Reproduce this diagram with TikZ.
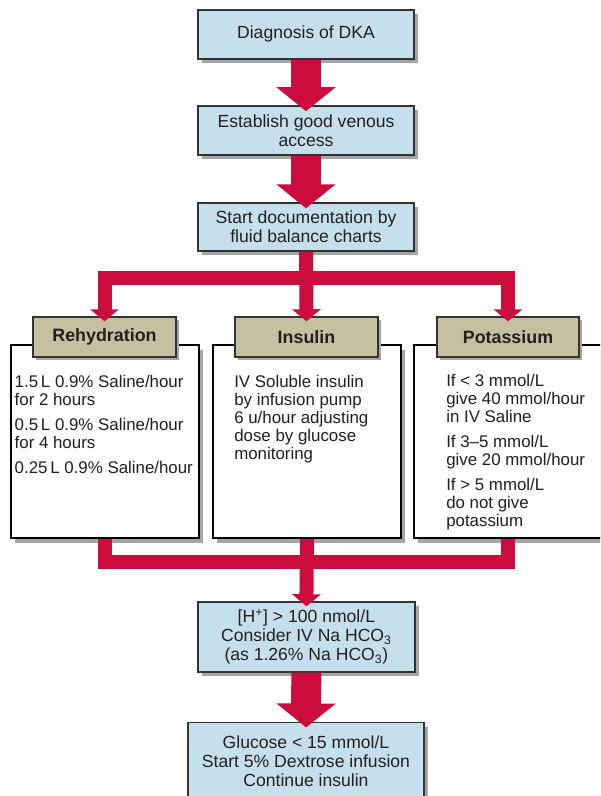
\documentclass[tikz,border=0pt]{standalone}
\usepackage{fontspec}
\setmainfont{Liberation Sans}
\usetikzlibrary{arrows.meta, shadows}
\definecolor{boxblue}{RGB}{197, 224, 236}
\definecolor{headtan}{RGB}{196, 192, 160}
\definecolor{flowred}{RGB}{204, 12, 60}
\definecolor{inkgray}{RGB}{35, 31, 32}
\definecolor{shadowgray}{RGB}{165, 165, 168}

\begin{document}
\begin{tikzpicture}[
				every node/.style={text=inkgray},
				bbox/.style={draw=black!80, line width=1pt, fill=boxblue,
					minimum width=5.4cm, minimum height=1.2cm,
					align=center, font=\fontsize{12.5}{13.6}\selectfont,
					drop shadow={shadow xshift=0.11cm, shadow yshift=-0.11cm,
						fill=shadowgray, opacity=1}},
				hbox/.style={draw=black!80, line width=1pt, fill=headtan,
					minimum width=3.57cm, minimum height=1.0cm,
					font=\fontsize{12.7}{14}\selectfont\bfseries,
					drop shadow={shadow xshift=0.08cm, shadow yshift=-0.08cm,
						fill=shadowgray, opacity=1}},
				tbox/.style={draw=black, line width=1.4pt, fill=white,
					minimum width=4.7cm, minimum height=4.825cm,
					drop shadow={shadow xshift=0.11cm, shadow yshift=-0.11cm,
						fill=shadowgray, opacity=1}},
				txt/.style={anchor=north west, inner sep=0pt, align=left,
					font=\fontsize{12}{12.8}\selectfont},
				bigarr/.style={flowred, line width=0.75cm,
					-{Triangle[width=1.45cm, length=0.6cm]}, shorten >=-0.15cm},
				arr/.style={flowred, line width=0.35cm,
					-{Triangle[width=0.7cm, length=0.3cm]}, shorten >=-0.125cm},
				flowline/.style={flowred, line width=0.35cm}
				]
				\clip (0,0) rectangle (15,-19.9);
				\fill[white] (0,0) rectangle (15,-19.9);
				\node[bbox, minimum height=1.225cm] (diag)   at (7.65,-0.86)  {Diagnosis of DKA};
				\node[bbox, minimum height=1.225cm] (access) at (7.65,-3.26)  {Establish good venous\\access};
				\node[bbox] (fluid)  at (7.65,-5.675) {Start documentation by\\fluid balance charts};
				\node[tbox] (rehydbox) at (2.625,-11.04) {};
				\node[tbox] (insbox)   at (7.675,-11.04) {};
				\node[tbox] (potbox)   at (12.7,-11.04)  {};
				\node[hbox] (rehyd) at (2.6125,-8.425) {Rehydration};
				\node[hbox] (insul) at (7.6625,-8.425) {Insulin};
				\node[hbox, minimum width=3.55cm] (potas) at (12.7,-8.425) {Potassium};
				\node[txt] (rehydtxt) at (0.36,-9.38) {1.5\,L 0.9\% Saline/hour\\for 2 hours\\[5pt]
					0.5\,L 0.9\% Saline/hour\\for 4 hours\\[5pt]0.25\,L 0.9\% Saline/hour};
				\node[txt] (instxt) at (5.85,-9.38) {IV Soluble insulin\\by infusion pump\\
					6 u/hour adjusting\\dose by glucose\\monitoring};
				\node[txt] (pottxt) at (11.15,-9.36) {If < 3 mmol/L\\give 40 mmol/hour\\in IV Saline\\[5pt]
					If 3--5 mmol/L\\give 20 mmol/hour\\[5pt]If > 5 mmol/L\\do not give\\potassium};
				\node[bbox, minimum width=5.425cm, minimum height=1.75cm] (hco) at (7.66,-15.925)
					{[H\textsuperscript{+}] > 100 nmol/L\\Consider IV Na HCO\textsubscript{3}\\(as 1.26\% Na HCO\textsubscript{3})};
				\node[bbox, minimum width=5.9cm, minimum height=1.95cm] (gluc) at (7.65,-19.03)
					{Glucose < 15 mmol/L\\Start 5\% Dextrose infusion\\Continue insulin};
				\coordinate (join) at (7.675,-14.05);
				\draw[bigarr] (diag)   -- (access);
				\draw[bigarr] (access) -- (fluid);
				\draw[arr] (fluid.south) -- ++(0,-0.65) -| (rehyd.north);
				\draw[arr] (fluid.south) -- ++(0,-0.65) -| (potas.north);
				\draw[arr] (fluid.south) -- (insul.north);
				\draw[flowline] (rehydbox.south) |- (join);
				\draw[flowline] (potbox.south) |- (join);
				\draw[arr] (insbox.south) -- (hco.north);
				\draw[bigarr] (hco) -- (gluc);
			\end{tikzpicture}
\end{document}
